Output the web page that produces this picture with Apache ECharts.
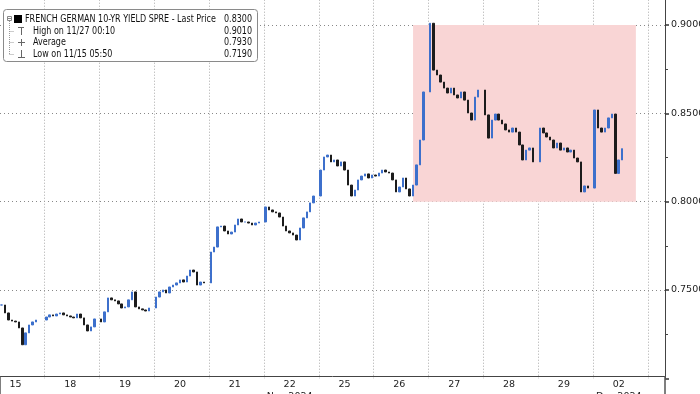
<!DOCTYPE html>
<html><head><meta charset="utf-8">
<script src="https://cdn.jsdelivr.net/npm/echarts@6/dist/echarts.min.js"></script>
<style>html,body{margin:0;padding:0;background:#fff}#c{width:700px;height:394px}</style>
</head><body><div id="c"></div>
<script>
// ---- data (closing prices of intraday bars, 16 slots per trading day, null = no trading) ----
const dayLabels = ['15','18','19','20','21','22','25','26','27','28','29','02'];
const monthLabels = {5:'Nov 2024', 11:'Dec 2024'};
const day15 = [null,null,null,0.7415,0.7370,0.7330,0.7324,0.7319,0.7285,0.7190,0.7257,0.7302,0.7319,0.7330,null,null];
const day18 = [0.7347,0.7359,0.7353,0.7364,0.7370,0.7359,0.7353,0.7347,0.7342,0.7364,0.7342,0.7302,0.7268,0.7291,0.7336,null];
const day19 = [0.7319,0.7376,0.7455,0.7444,0.7438,0.7421,0.7398,0.7404,0.7444,0.7489,0.7404,0.7393,0.7387,0.7381,0.7398,null];
const day20 = [0.7460,0.7489,0.7500,0.7483,0.7517,0.7528,0.7540,0.7557,0.7545,0.7579,0.7613,0.7602,0.7528,0.7545,0.7540,null];
const day21 = [0.7715,0.7743,0.7857,0.7862,0.7834,0.7817,0.7828,0.7868,0.7902,0.7885,0.7885,0.7879,0.7868,0.7879,0.7885,null];
const day22 = [0.7970,0.7953,0.7942,0.7936,0.7913,0.7862,0.7834,0.7823,0.7811,0.7783,0.7851,0.7908,0.7942,0.7993,0.8032,null];
const day25 = [0.8179,0.8253,0.8264,0.8225,0.8236,0.8202,0.8225,0.8179,0.8094,0.8032,0.8066,0.8123,0.8145,0.8157,0.8134,0.8151];
const day26 = [0.8145,0.8162,0.8179,0.8168,0.8162,0.8123,0.8055,0.8083,0.8134,0.8072,0.8032,0.8094,0.8208,0.8349,0.8621,null];
const day27 = [0.9010,0.8745,0.8717,0.8677,0.8643,0.8615,0.8643,0.8604,0.8587,0.8621,0.8575,0.8502,0.8462,0.8592,0.8632,null];
const day28 = [0.8491,0.8360,0.8462,0.8496,0.8462,0.8440,0.8406,0.8394,0.8417,0.8394,0.8321,0.8236,0.8292,0.8304,0.8225,null];
const day29 = [0.8417,0.8389,0.8366,0.8349,0.8304,0.8332,0.8292,0.8304,0.8281,0.8292,0.8247,0.8225,0.8055,0.8089,0.8077,null];
const day02 = [0.8519,0.8417,0.8394,0.8417,0.8474,0.8496,0.8160,0.8236,0.8300,null,null,null,null,null,null,null];
const yTickValues = [0.75, 0.80, 0.85, 0.90];
const legendNames = ['FRENCH GERMAN 10-YR YIELD SPRE - Last Price','High on 11/27 00:10','Average','Low on 11/15 05:50'];
const legendValues = ['0.8300','0.9010','0.7930','0.7190'];
const lastPrice = 0.8300;
const highlightFrom = ['7_11', 0.80];
const highlightTo = ['11_12', 0.90];

// ---- build categories / OHLC from the arrays ----
const days = [day15,day18,day19,day20,day21,day22,day25,day26,day27,day28,day29,day02];
const SLOTS = 16, START = 3, END = 197;
const cats = [], ohlc = [];
let prev = null;
for (let g = 0; g < END; g++) {
  const d = Math.floor(g / SLOTS), j = g % SLOTS;
  const c = d < days.length ? days[d][j] : null;
  if (g >= START) cats.push(d + '_' + j);
  if (c == null) { if (g >= START) ohlc.push('-'); continue; }
  const o = prev == null ? c : prev;
  prev = c;
  if (g >= START) ohlc.push([o, c, Math.min(o, c), Math.max(o, c)]);
}

const FONT = 'DejaVu Sans';
const chart = echarts.init(document.getElementById('c'));
const legendGraphics = [
  {type:'rect', shape:{x:3.5,y:9.5,width:254,height:52,r:3}, style:{fill:'#fff',stroke:'#8a8a8a',lineWidth:1}, z:100},
  {type:'rect', shape:{x:7.5,y:16.5,width:4,height:4}, style:{fill:'#fff',stroke:'#888',lineWidth:1}, z:101},
  {type:'line', shape:{x1:8,y1:18.5,x2:11,y2:18.5}, style:{stroke:'#888',lineWidth:1}, z:101},
  {type:'rect', shape:{x:14,y:15,width:8,height:8}, style:{fill:'#000'}, z:101},
  {type:'line', shape:{x1:9.5,y1:21,x2:9.5,y2:54}, style:{stroke:'#999',lineWidth:1,lineDash:[1,1]}, z:101},
  {type:'line', shape:{x1:9.5,y1:31.5,x2:14,y2:31.5}, style:{stroke:'#999',lineWidth:1,lineDash:[1,1]}, z:101},
  {type:'line', shape:{x1:9.5,y1:42.5,x2:14,y2:42.5}, style:{stroke:'#999',lineWidth:1,lineDash:[1,1]}, z:101},
  {type:'line', shape:{x1:9.5,y1:54.5,x2:14,y2:54.5}, style:{stroke:'#999',lineWidth:1,lineDash:[1,1]}, z:101},
  {type:'line', shape:{x1:18,y1:27.5,x2:24,y2:27.5}, style:{stroke:'#666',lineWidth:1}, z:101},
  {type:'line', shape:{x1:21.5,y1:27.5,x2:21.5,y2:35}, style:{stroke:'#666',lineWidth:1}, z:101},
  {type:'line', shape:{x1:18,y1:42.5,x2:25,y2:42.5}, style:{stroke:'#666',lineWidth:1}, z:101},
  {type:'line', shape:{x1:21.5,y1:39,x2:21.5,y2:46}, style:{stroke:'#666',lineWidth:1}, z:101},
  {type:'line', shape:{x1:21.5,y1:50,x2:21.5,y2:57.5}, style:{stroke:'#666',lineWidth:1}, z:101},
  {type:'line', shape:{x1:18,y1:57.5,x2:25,y2:57.5}, style:{stroke:'#666',lineWidth:1}, z:101}
];
const rowY = [19.5, 31, 42.7, 54.2];
legendNames.forEach((t, i) => {
  legendGraphics.push({type:'text', x: i === 0 ? 25 : 33, y: rowY[i], scaleX: 0.8, z:102,
    style:{text:t, font:'10px "' + FONT + '"', fill:'#111', verticalAlign:'middle', align:'left'}});
  legendGraphics.push({type:'text', x: 252, y: rowY[i], scaleX: 0.8, z:102,
    style:{text:legendValues[i], font:'10px "' + FONT + '"', fill:'#111', verticalAlign:'middle', align:'right'}});
});

chart.setOption({
  animation: false,
  backgroundColor: '#fff',
  grid: {left: 0, right: 35, top: -63.3, bottom: 15.7, containLabel: false, outerBoundsMode: 'none'},
  xAxis: {
    type: 'category', data: cats, boundaryGap: true, offset: -2.3, z: 1,
    axisLine: {show: true, lineStyle: {color: '#444', width: 1}},
    axisTick: {show: true, interval: (i, v) => v === '11_0', length: 18, lineStyle: {color: '#555', width: 1.5}},
    axisLabel: {show: true, interval: (i, v) => v.split('_')[1] === '7', margin: 3,
      fontSize: 9.5, fontFamily: FONT, color: '#222', lineHeight: 12,
      formatter: v => { const d = +v.split('_')[0]; return dayLabels[d] + (monthLabels[d] ? '\n' + monthLabels[d] : ''); }},
    splitLine: {show: true, interval: (i, v) => v.split('_')[1] === '0', lineStyle: {color: '#aaa', type: [1, 2], width: 1}}
  },
  yAxis: {
    type: 'value', position: 'right', min: 0.70, max: 0.95, interval: 0.05, z: 1,
    axisLine: {show: true, lineStyle: {color: '#444', width: 1}},
    axisTick: {show: true, length: 4, lineStyle: {color: '#333', width: 1.5}},
    minorTick: {show: true, splitNumber: 2, length: 3, lineStyle: {color: '#444'}},
    axisLabel: {fontSize: 9.5, fontFamily: FONT, color: '#222', margin: 6, showMinLabel: false,
      formatter: v => yTickValues.some(t => Math.abs(t - v) < 1e-6) ? v.toFixed(4) : ''},
    splitLine: {show: true, showMinLine: false, lineStyle: {color: '#888', type: [1, 3], width: 1}}
  },
  series: [
    {type: 'line', data: [], z: 0, silent: true,
      markArea: {silent: true, itemStyle: {color: '#f9d5d5'},
        data: [[{xAxis: highlightFrom[0], yAxis: highlightFrom[1]}, {xAxis: highlightTo[0], yAxis: highlightTo[1]}]]}},
    {type: 'candlestick', data: ohlc, z: 3, barWidth: 2,
      itemStyle: {color: '#3d70cc', color0: '#1c1c1c', borderColor: '#3d70cc', borderColor0: '#1c1c1c', borderWidth: 1},
      markLine: {silent: true, symbol: 'none', animation: false,
        lineStyle: {opacity: 0},
        label: {show: true, position: 'end', distance: 2, formatter: lastPrice.toFixed(4), color: '#fff',
          backgroundColor: '#111', padding: [2, 3, 2, 3], borderRadius: 2, fontSize: 9.5, fontFamily: FONT},
        data: [{yAxis: lastPrice}]}}
  ],
  graphic: legendGraphics
});
</script></body></html>
